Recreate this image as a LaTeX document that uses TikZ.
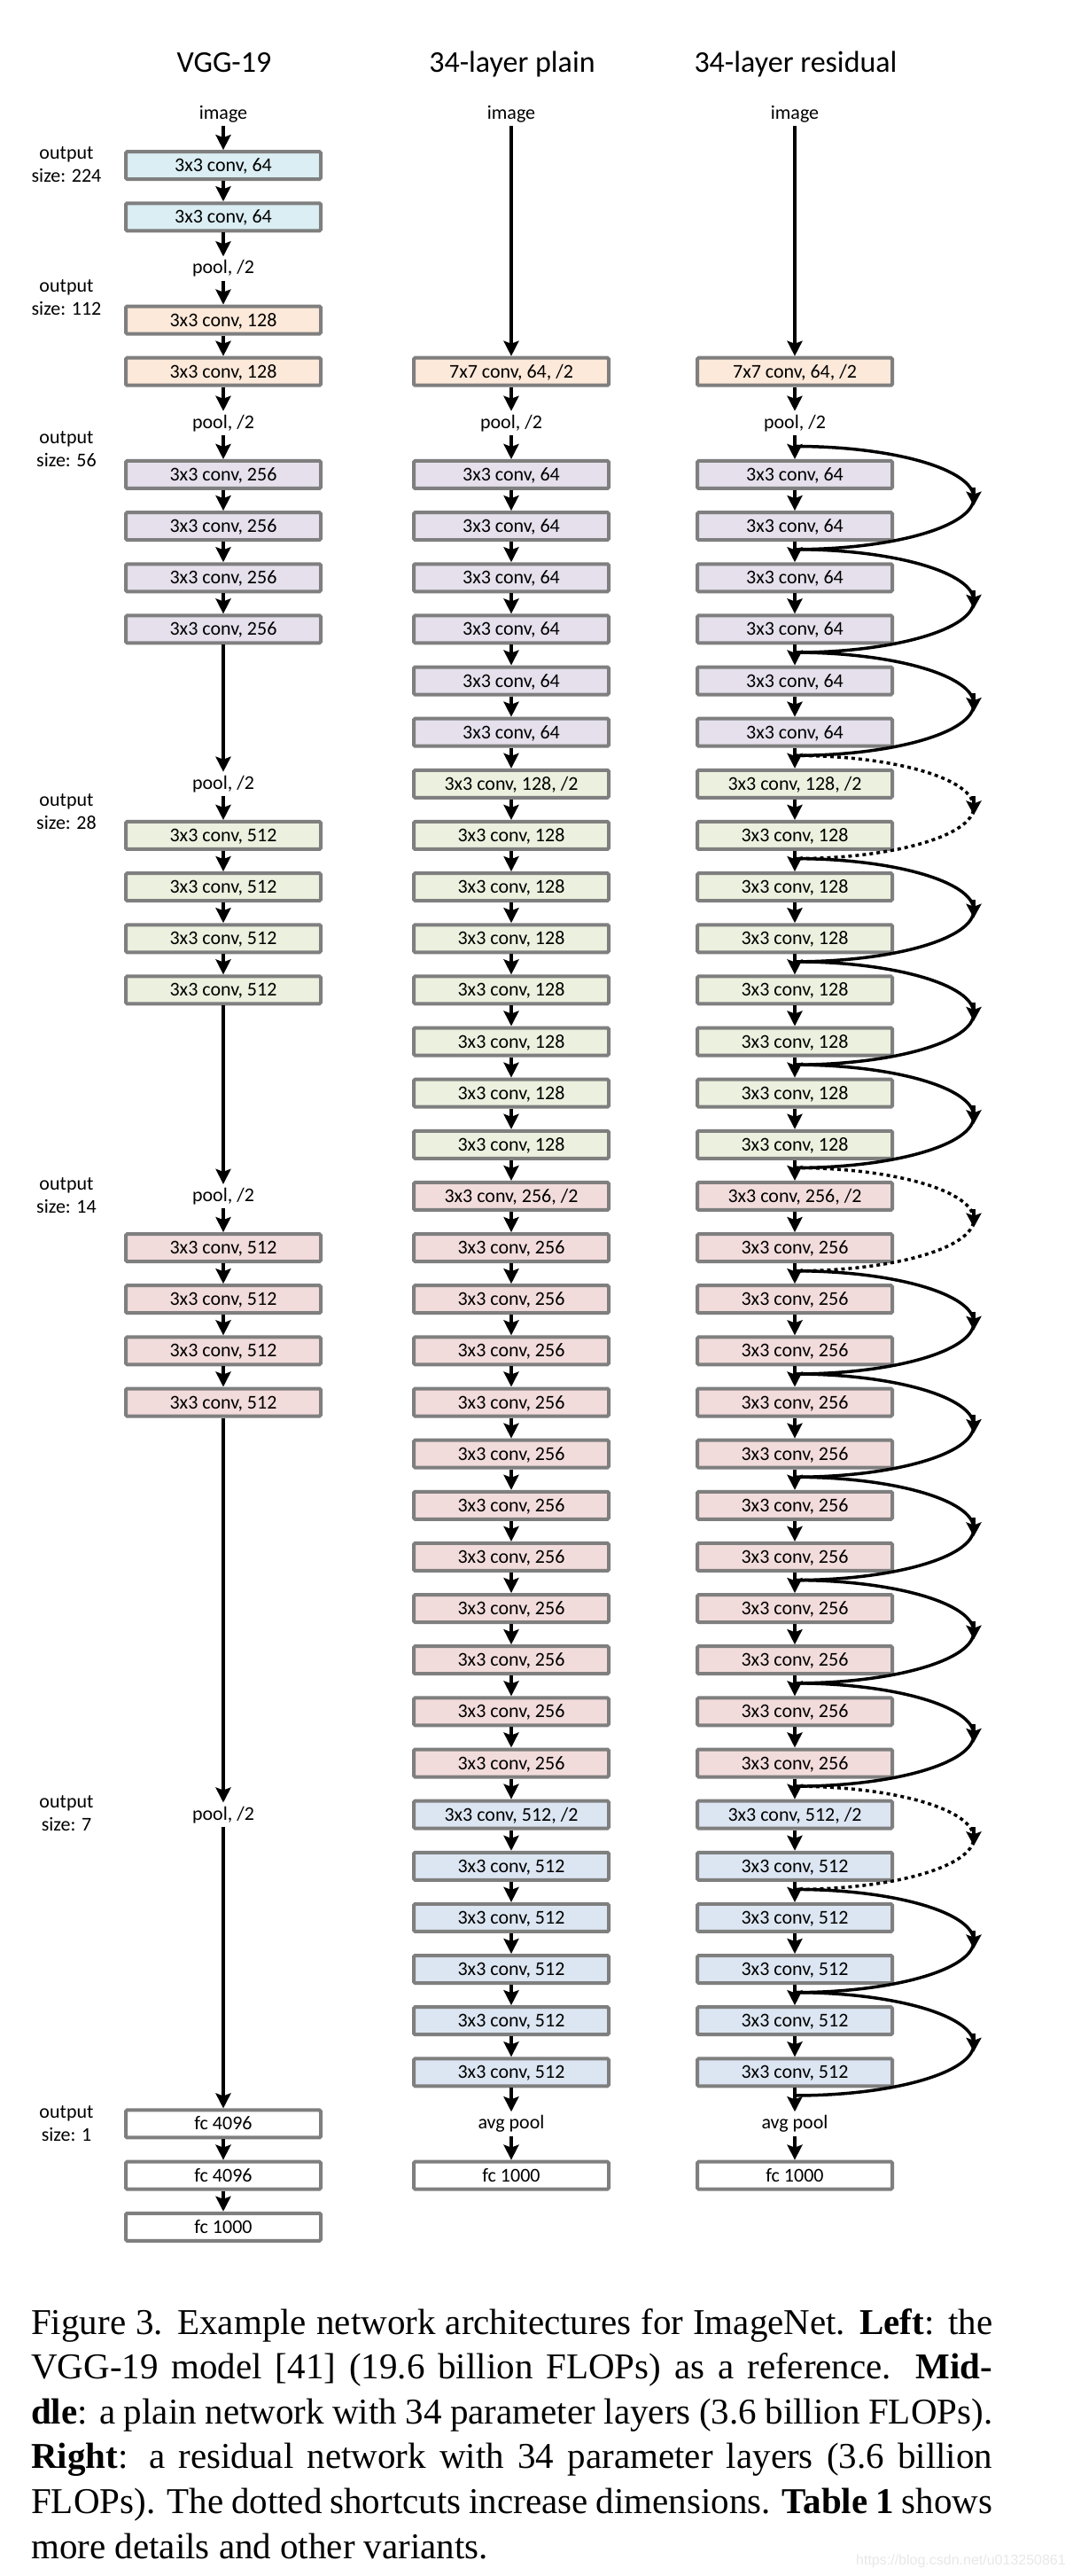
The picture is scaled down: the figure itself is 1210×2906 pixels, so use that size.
\documentclass[tikz,border=0pt]{standalone}
\usepackage{fontspec}
\setmainfont{Liberation Serif}
\newfontfamily\calfont{Carlito}
\newfontfamily\wmfont{Liberation Sans}
\usetikzlibrary{arrows.meta}
\definecolor{cBlue}{HTML}{DAEEF3}
\definecolor{cOrange}{HTML}{FDE9D9}
\definecolor{cLav}{HTML}{E5E0EC}
\definecolor{cGreen}{HTML}{EBF1DE}
\definecolor{cPink}{HTML}{F2DCDB}
\definecolor{cSteel}{HTML}{DCE6F2}
\definecolor{cBorder}{HTML}{7F7F7F}
\def\RP{58.14}
\tikzset{
  layer/.style={draw=cBorder, line width=4pt, rounded corners=1.5pt,
    minimum width=220pt, minimum height=31pt, inner sep=0pt,
    text height=14pt, text depth=0pt,
    font=\calfont\fontsize{22}{26}\selectfont},
  lbl/.style={inner sep=4pt, font=\calfont\fontsize{22}{26}\selectfont},
  outsz/.style={inner sep=0pt, align=center, font=\calfont\fontsize{22}{26}\selectfont},
  ttl/.style={inner sep=0pt, anchor=base, font=\calfont\fontsize{34}{40}\selectfont},
  arr/.style={line width=3.5pt, -{Stealth[length=17pt,width=17pt,inset=3pt]}},
  sc/.style={line width=3.5pt},
  scarr/.style={line width=3.5pt, -{Stealth[length=16pt,width=17pt,inset=3pt]}},
  dotshort/.style={dash pattern=on 4pt off 4pt},
  capl/.style={inner sep=0pt, anchor=base west, font=\fontsize{41}{50.6}\selectfont},
}
\begin{document}
\begin{tikzpicture}[x=1pt,y=-1pt]
\fill[white] (0,0) rectangle (1210,2906);
\useasboundingbox (0,0) rectangle (1210,2906);

% titles
\node[ttl] (t1) at (253,82) {VGG-19};
\node[ttl] (t2) at (578,82) {34-layer plain};
\node[ttl] (t3) at (898,82) {34-layer residual};

% output size labels
\node[outsz] (o1) at (75,186) {output\\size: 224};
\node[outsz] (o2) at (75,335.5) {output\\size: 112};
\node[outsz] (o3) at (75,507) {output\\size: 56};
\node[outsz] (o4) at (75,916) {output\\size: 28};
\node[outsz] (o5) at (75,1349) {output\\size: 14};
\node[outsz] (o6) at (75,2046) {output\\size: 7};
\node[outsz] (o7) at (75,2396) {output\\size: 1};

% VGG-19 column
\def\vx{252}
\node[lbl] (v0) at (\vx,128.5) {image};
\node[layer,fill=cBlue] (v1) at (\vx,128.5+\RP*1) {3x3 conv, 64};
\node[layer,fill=cBlue] (v2) at (\vx,128.5+\RP*2) {3x3 conv, 64};
\node[lbl] (v3) at (\vx,128.5+\RP*3) {pool, /2};
\node[layer,fill=cOrange] (v4) at (\vx,128.5+\RP*4) {3x3 conv, 128};
\node[layer,fill=cOrange] (v5) at (\vx,128.5+\RP*5) {3x3 conv, 128};
\node[lbl] (v6) at (\vx,128.5+\RP*6) {pool, /2};
\foreach \k in {7,...,10}
  \node[layer,fill=cLav] (v\k) at (\vx,128.5+\RP*\k) {3x3 conv, 256};
\node[lbl] (v13) at (\vx,128.5+\RP*13) {pool, /2};
\foreach \k in {14,...,17}
  \node[layer,fill=cGreen] (v\k) at (\vx,128.5+\RP*\k) {3x3 conv, 512};
\node[lbl] (v21) at (\vx,128.5+\RP*21) {pool, /2};
\foreach \k in {22,...,25}
  \node[layer,fill=cPink] (v\k) at (\vx,128.5+\RP*\k) {3x3 conv, 512};
\node[lbl] (v33) at (\vx,128.5+\RP*33) {pool, /2};
\node[layer,fill=white] (v39) at (\vx,128.5+\RP*39) {fc 4096};
\node[layer,fill=white] (v40) at (\vx,128.5+\RP*40) {fc 4096};
\node[layer,fill=white] (v41) at (\vx,128.5+\RP*41) {fc 1000};
\foreach \a/\b in {0/1,1/2,2/3,3/4,4/5,5/6,6/7,7/8,8/9,9/10,10/13,13/14,14/15,15/16,16/17,17/21,
  21/22,22/23,23/24,24/25,25/33,33/39,39/40,40/41}
  \draw[arr] (v\a) -- (v\b);

% plain and residual columns
\foreach \cl/\cx in {p/577,r/897}{
  \node[lbl] (\cl0) at (\cx,128.5) {image};
  \node[layer,fill=cOrange] (\cl5) at (\cx,128.5+\RP*5) {7x7 conv, 64, /2};
  \node[lbl] (\cl6) at (\cx,128.5+\RP*6) {pool, /2};
  \foreach \k in {7,...,12}
    \node[layer,fill=cLav] (\cl\k) at (\cx,128.5+\RP*\k) {3x3 conv, 64};
  \node[layer,fill=cGreen] (\cl13) at (\cx,128.5+\RP*13) {3x3 conv, 128, /2};
  \foreach \k in {14,...,20}
    \node[layer,fill=cGreen] (\cl\k) at (\cx,128.5+\RP*\k) {3x3 conv, 128};
  \node[layer,fill=cPink] (\cl21) at (\cx,128.5+\RP*21) {3x3 conv, 256, /2};
  \foreach \k in {22,...,32}
    \node[layer,fill=cPink] (\cl\k) at (\cx,128.5+\RP*\k) {3x3 conv, 256};
  \node[layer,fill=cSteel] (\cl33) at (\cx,128.5+\RP*33) {3x3 conv, 512, /2};
  \foreach \k in {34,...,38}
    \node[layer,fill=cSteel] (\cl\k) at (\cx,128.5+\RP*\k) {3x3 conv, 512};
  \node[lbl] (\cl39) at (\cx,128.5+\RP*39) {avg pool};
  \node[layer,fill=white] (\cl40) at (\cx,128.5+\RP*40) {fc 1000};
  \draw[arr] (\cl0) -- (\cl5);
  \foreach \k [evaluate=\k as \n using int(\k+1)] in {5,...,39}
    \draw[arr] (\cl\k) -- (\cl\n);
}

% shortcut junctions
\foreach \k in {7,9,...,39}{
  \coordinate (j\k) at (897,128.5+\RP*\k-32);
  \coordinate (m\k) at (1099,128.5+\RP*\k-32+\RP);
  \coordinate (a\k) at (1099,128.5+\RP*\k-32+\RP-12);
  \coordinate (b\k) at (1099,128.5+\RP*\k-32+\RP+9);
}
\foreach \a/\b/\s in {7/9/solid,9/11/solid,11/13/solid,13/15/dotshort,15/17/solid,17/19/solid,
  19/21/solid,21/23/dotshort,23/25/solid,25/27/solid,27/29/solid,29/31/solid,31/33/solid,
  33/35/dotshort,35/37/solid,37/39/solid}{
  \draw[sc,\s] (j\a) .. controls +(112,0) and +(0,-32) .. (m\a)
     .. controls +(0,32) and +(112,0) .. (j\b);
  \draw[scarr] (a\a) -- (b\a);
}

% caption
\node[capl] (c1) at (35,2633) {\makebox[1085pt][s]{Figure 3. Example network architectures for ImageNet. \textbf{Left}: the}};
\node[capl] (c2) at (35,2633+50.6) {\makebox[1085pt][s]{VGG-19 model [41] (19.6 billion FLOPs) as a reference. \textbf{Mid-}}};
\node[capl] (c3) at (35,2633+101.2) {\makebox[1085pt][s]{\textbf{dle}: a plain network with 34 parameter layers (3.6 billion FLOPs).}};
\node[capl] (c4) at (35,2633+151.8) {\makebox[1085pt][s]{\textbf{Right}: a residual network with 34 parameter layers (3.6 billion}};
\node[capl] (c5) at (35,2633+202.4) {\makebox[1085pt][s]{FLOPs). The dotted shortcuts increase dimensions. \textbf{Table 1} shows}};
\node[capl] (c6) at (35,2633+253) {more details and other variants.};

% watermark
\node[anchor=base east, inner sep=0pt, text=black!9, font=\wmfont\fontsize{16}{18}\selectfont] (wm) at (1203,2893) {https://blog.csdn.net/u013250861};
\end{tikzpicture}
\end{document}
